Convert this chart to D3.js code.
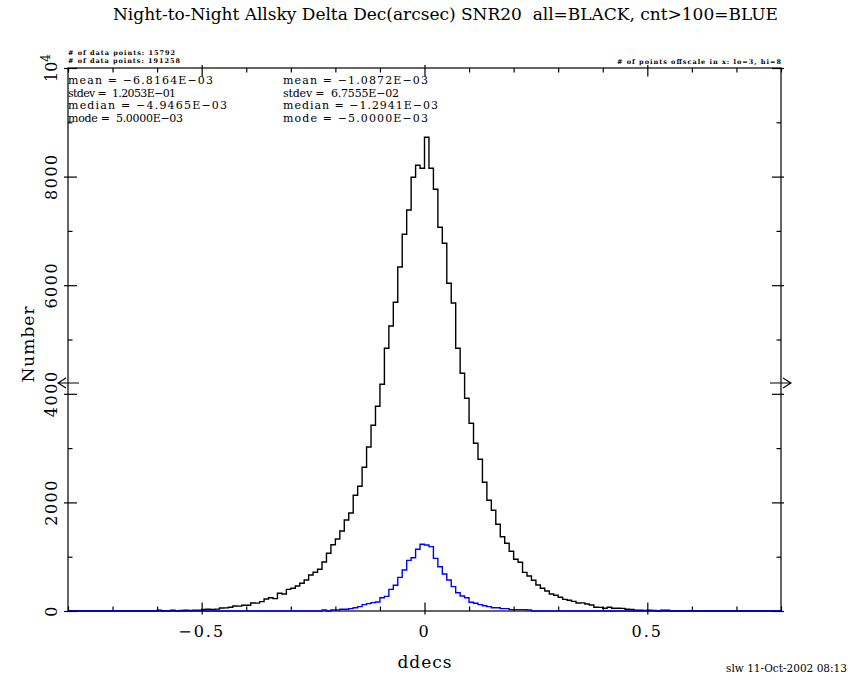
<!DOCTYPE html>
<html>
<head>
<meta charset="utf-8">
<script src="https://cdn.jsdelivr.net/npm/d3@7"></script>
<style>
  body { margin: 0; background: #fff; }
  svg { display: block; }
  text { font-family: "DejaVu Serif", serif; fill: #000; }
</style>
</head>
<body>
<svg id="chart" width="850" height="680"></svg>
<script>
// histogram counts, bin width 0.01, first bin left edge given by *Start
const binWidth = 0.01
const allStart = -0.60
const allCounts = [
  13, 0, 0, 13, 0, 10, 15, 12, 16, 14,
  28, 33, 30, 34, 55, 57, 68, 92, 90, 105,
  107, 147, 145, 172, 221, 245, 227, 326, 313, 399,
  418, 460, 510, 571, 663, 713, 768, 902, 1063, 1220,
  1326, 1473, 1676, 1805, 2131, 2297, 2646, 3020, 3420, 3770,
  4175, 4838, 5249, 5685, 6335, 6937, 7385, 7987, 8208, 8153,
  8724, 8153, 7766, 7066, 6772, 6035, 5672, 4838, 4378, 3917,
  3457, 3088, 2794, 2370, 2039, 1855, 1597, 1368, 1247, 1099,
  952, 897, 712, 645, 565, 479, 418, 368, 313, 289,
  252, 215, 197, 178, 147, 149, 129, 110, 68, 66,
  50, 68, 50, 52, 49, 31, 30, 13, 14, 12,
  13, 12, 0, 13, 13
]
const cntStart = -0.23
const cntCounts = [
  18, 0, 18, 18, 31, 31, 43, 61, 80, 117,
  135, 155, 165, 245, 270, 399, 473, 620, 755, 933,
  982, 1136, 1228, 1215, 1185, 970, 816, 681, 571, 448,
  337, 276, 245, 160, 142, 117, 98, 80, 61, 61,
  43, 43, 25, 25, 25, 25, 18
]

const xDomain = [-0.8, 0.8]
const yDomain = [0, 10000]
const xMajor = [-0.5, 0, 0.5]
const yMajor = [0, 2000, 4000, 6000, 8000, 10000]
const markerLevel = 4200

const title = "Night-to-Night Allsky Delta Dec(arcsec) SNR20\u00a0\u00a0all=BLACK, cnt>100=BLUE"
const statsAll = ["mean = \u22126.8164E\u221203", "stdev =\u00a0\u00a01.2053E\u221201", "median = \u22124.9465E\u221203", "mode =\u00a0\u00a05.0000E\u221203"]
const statsCnt = ["mean = \u22121.0872E\u221203", "stdev =\u00a0\u00a06.7555E\u221202", "median = \u22121.2941E\u221203", "mode = \u22125.0000E\u221203"]
const pointsInfo = ["# of data points: 15792", "# of data points: 191258"]
const offscaleInfo = "# of points offscale in x: lo=3, hi=8"
const stamp = "slw 11-Oct-2002 08:13"

const svg = d3.select("#chart")
const plotL = 68, plotR = 781, plotT = 68, plotB = 611

const x = d3.scaleLinear().domain(xDomain).range([plotL, plotR])
const y = d3.scaleLinear().domain(yDomain).range([plotB, plotT])

svg.append("rect")
  .attr("x", plotL).attr("y", plotT)
  .attr("width", plotR - plotL).attr("height", plotB - plotT)
  .attr("fill", "none").attr("stroke", "#000").attr("stroke-width", 1.2)

// full-range step points, empty bins drawn on the baseline
const nBins = Math.round((xDomain[1] - xDomain[0]) / binWidth)
function stepPoints(start, counts) {
  const off = Math.round((start - xDomain[0]) / binWidth)
  const pts = d3.range(nBins).map(k => [xDomain[0] + k * binWidth, counts[k - off] ?? 0])
  pts.push([xDomain[1], pts[pts.length - 1][1]])
  return pts
}
const line = d3.line().x(d => x(d[0])).y(d => y(d[1])).curve(d3.curveStepAfter)

svg.append("path")
  .attr("d", line(stepPoints(allStart, allCounts)))
  .attr("fill", "none").attr("stroke", "#000").attr("stroke-width", 1.4)
svg.append("path")
  .attr("d", line(stepPoints(cntStart, cntCounts)))
  .attr("fill", "none").attr("stroke", "#0000ff").attr("stroke-width", 1.4)

// ticks
const tickAxis = (axis, tx, ty) => {
  const g = svg.append("g").attr("transform", `translate(${tx},${ty})`).call(axis)
  g.select(".domain").remove()
  g.selectAll("line").attr("stroke", "#000").attr("stroke-width", 1.2)
  return g
}
const xMinor = x.ticks(16).filter(v => !xMajor.some(m => Math.abs(m - v) < 1e-9))
const yMinor = y.ticks(10).filter(v => yMajor.indexOf(v) < 0)

tickAxis(d3.axisTop(x).tickValues(xMinor).tickSize(4.5).tickFormat(""), 0, plotB)
tickAxis(d3.axisTop(x).tickValues(xMajor).tickSize(8.5).tickFormat(""), 0, plotB)
tickAxis(d3.axisBottom(x).tickValues(xMajor).tickSize(3.5).tickFormat(""), 0, plotB)
tickAxis(d3.axisBottom(x).tickValues(xMinor).tickSize(4.5).tickFormat(""), 0, plotT)
tickAxis(d3.axisBottom(x).tickValues(xMajor).tickSize(8.5).tickFormat(""), 0, plotT)
tickAxis(d3.axisTop(x).tickValues(xMajor).tickSize(3).tickFormat(""), 0, plotT)

tickAxis(d3.axisRight(y).tickValues(yMinor).tickSize(4.5).tickFormat(""), plotL, 0)
tickAxis(d3.axisRight(y).tickValues(yMajor).tickSize(9).tickFormat(""), plotL, 0)
tickAxis(d3.axisLeft(y).tickValues(yMajor).tickSize(4).tickFormat(""), plotL, 0)
tickAxis(d3.axisLeft(y).tickValues(yMinor).tickSize(4.5).tickFormat(""), plotR, 0)
tickAxis(d3.axisLeft(y).tickValues(yMajor).tickSize(9).tickFormat(""), plotR, 0)
tickAxis(d3.axisRight(y).tickValues(yMajor).tickSize(3).tickFormat(""), plotR, 0)

// tick labels
const fmtX = v => v === 0 ? "0" : d3.format(".1f")(v).replace("-", "\u2212")
svg.append("g").selectAll("text").data(xMajor).join("text")
  .attr("x", d => x(d)).attr("y", 637)
  .attr("text-anchor", "middle").attr("font-size", 16).attr("letter-spacing", 2)
  .text(fmtX)

svg.append("g").selectAll("text").data(yMajor.filter(v => v < 10000)).join("text")
  .attr("transform", d => `translate(57,${y(d)}) rotate(-90)`)
  .attr("text-anchor", "middle").attr("font-size", 16).attr("letter-spacing", 1.5)
  .text(d => d)

const pow = svg.append("text")
  .attr("transform", `translate(57,${y(10000)}) rotate(-90)`)
  .attr("text-anchor", "middle").attr("font-size", 16)
pow.append("tspan").text("10")
pow.append("tspan").attr("font-size", 12).attr("dy", -7).text("4")

// axis titles
svg.append("text")
  .attr("transform", "translate(34,344) rotate(-90)")
  .attr("text-anchor", "middle").attr("font-size", 17).attr("letter-spacing", 1)
  .text("Number")
svg.append("text")
  .attr("x", 425).attr("y", 668)
  .attr("text-anchor", "middle").attr("font-size", 17).attr("letter-spacing", 1)
  .text("ddecs")

svg.append("text")
  .attr("x", 113).attr("y", 20)
  .attr("font-size", 17).attr("textLength", 665).attr("lengthAdjust", "spacing")
  .text(title)

// stats blocks
const statW1 = [145, 108, 159, 115]
const statW2 = [145, 116, 155, 145]
const statY = [84, 96.5, 109, 121.5]
svg.append("g").selectAll("text").data(statsAll).join("text")
  .attr("x", 68).attr("y", (d, i) => statY[i])
  .attr("font-size", 11).attr("textLength", (d, i) => statW1[i]).attr("lengthAdjust", "spacing")
  .text(d => d)
svg.append("g").selectAll("text").data(statsCnt).join("text")
  .attr("x", 283).attr("y", (d, i) => statY[i])
  .attr("font-size", 11).attr("textLength", (d, i) => statW2[i]).attr("lengthAdjust", "spacing")
  .text(d => d)

svg.append("g").selectAll("text").data(pointsInfo).join("text")
  .attr("x", 68).attr("y", (d, i) => 55 + i * 7.5)
  .attr("font-size", 6.5).attr("font-weight", "bold")
  .attr("textLength", (d, i) => [107, 112][i]).attr("lengthAdjust", "spacing")
  .text(d => d)

svg.append("text")
  .attr("x", 617).attr("y", 64)
  .attr("font-size", 6.5).attr("font-weight", "bold")
  .attr("textLength", 164).attr("lengthAdjust", "spacing")
  .text(offscaleInfo)

svg.append("text")
  .attr("x", 726).attr("y", 672)
  .attr("font-size", 10.5).attr("textLength", 121).attr("lengthAdjust", "spacing")
  .text(stamp)

// level markers crossing both side axes
const arrow = (x0, x1) => {
  const ym = y(markerLevel), dir = Math.sign(x1 - x0)
  svg.append("path")
    .attr("d", `M${x0},${ym}H${x1}M${x1 - dir * 8},${ym - 5}L${x1},${ym}L${x1 - dir * 8},${ym + 5}`)
    .attr("fill", "none").attr("stroke", "#000").attr("stroke-width", 1.1)
}
arrow(x(xDomain[0]) + 11, x(xDomain[0]) - 10)
arrow(x(xDomain[1]) - 11, x(xDomain[1]) + 10)
</script>
</body>
</html>
